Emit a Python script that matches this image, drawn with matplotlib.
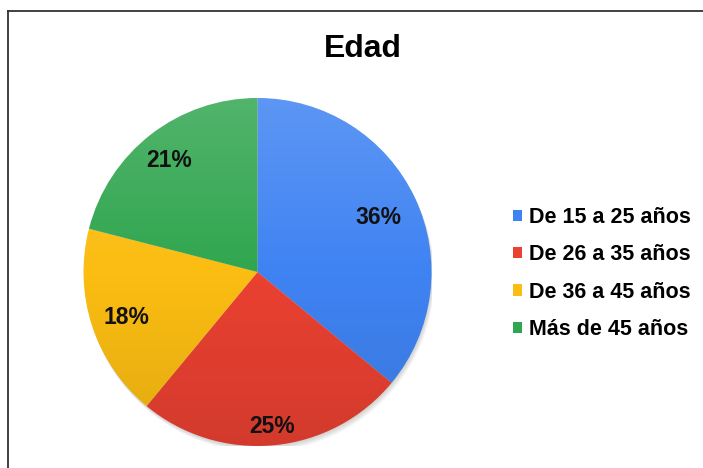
import numpy as np
import matplotlib.pyplot as plt
from matplotlib.patches import Patch, Circle
from matplotlib.lines import Line2D

# Datos del grafico
categorias = ['De 15 a 25 años', 'De 26 a 35 años', 'De 36 a 45 años', 'Más de 45 años']
valores = [36, 25, 18, 21]
colores = ['#3f83f2', '#ea4131', '#fbbd12', '#31a650']
titulo = 'Edad'

# distancia de cada etiqueta al centro (fraccion del radio)
dist_etiquetas = [0.77, 0.875, 0.79, 0.83]

plt.rcParams['font.family'] = ['Liberation Sans', 'DejaVu Sans']

fig = plt.figure(figsize=(7.03, 4.68), dpi=100)
fig.patch.set_facecolor('white')

# marco (solo izquierda y arriba visibles)
fig.add_artist(Line2D([8/703, 8/703], [0, 1 - 11/468], color='#333333', lw=1.3))
fig.add_artist(Line2D([8/703, 1], [1 - 11/468, 1 - 11/468], color='#333333', lw=1.3))

fig.text(363/703, 1 - 49/468, titulo, ha='center', va='center',
         fontsize=23, fontweight='bold', color='black')

ax = fig.add_axes([83.5/703, 22/468, 348/703, 348/468])
wedges, texts, autotexts = ax.pie(valores, colors=colores, startangle=90, counterclock=False,
                                  autopct='%1.0f%%', pctdistance=0.8,
                                  textprops=dict(fontsize=16.5, fontweight='bold', color='#111111'))
for t in texts:
    t.set_visible(False)
ax.set_xlim(-1, 1)
ax.set_ylim(-1, 1)
ax.set_aspect('equal')

# sombra suave debajo
for k in range(4):
    ax.add_patch(Circle((0.004 * (k + 1), -0.008 * (k + 1)), 1, facecolor='black',
                        edgecolor='none', alpha=0.045, zorder=0))

# degradado suave: claro arriba, mas oscuro abajo
grad = np.zeros((256, 1, 4))
yy = np.linspace(0, 1, 256)
for i, y in enumerate(yy):
    if y < 0.5:
        grad[i] = [1, 1, 1, 0.16 * (1 - y / 0.5)]
    else:
        grad[i] = [0, 0, 0, 0.10 * (y - 0.5) / 0.5]
im = ax.imshow(grad, extent=(-1, 1, -1, 1), aspect='auto', zorder=2, interpolation='bilinear')
im.set_clip_path(Circle((0, 0), 1, transform=ax.transData))

for w, t, d in zip(wedges, autotexts, dist_etiquetas):
    ang = np.deg2rad((w.theta1 + w.theta2) / 2)
    t.set_position((d * np.cos(ang), d * np.sin(ang) - 0.015))
    t.set_zorder(3)

handles = [Patch(facecolor=c, edgecolor='none') for c in colores]
fig.legend(handles, categorias, loc='center left', bbox_to_anchor=(513/703, 1 - 273.5/468),
           frameon=False, prop=dict(weight='bold', size=15.5), borderpad=0, borderaxespad=0,
           handlelength=0.42, handleheight=0.42, handletextpad=0.33, labelspacing=0.76)

fig.savefig('out.png', dpi=100)
